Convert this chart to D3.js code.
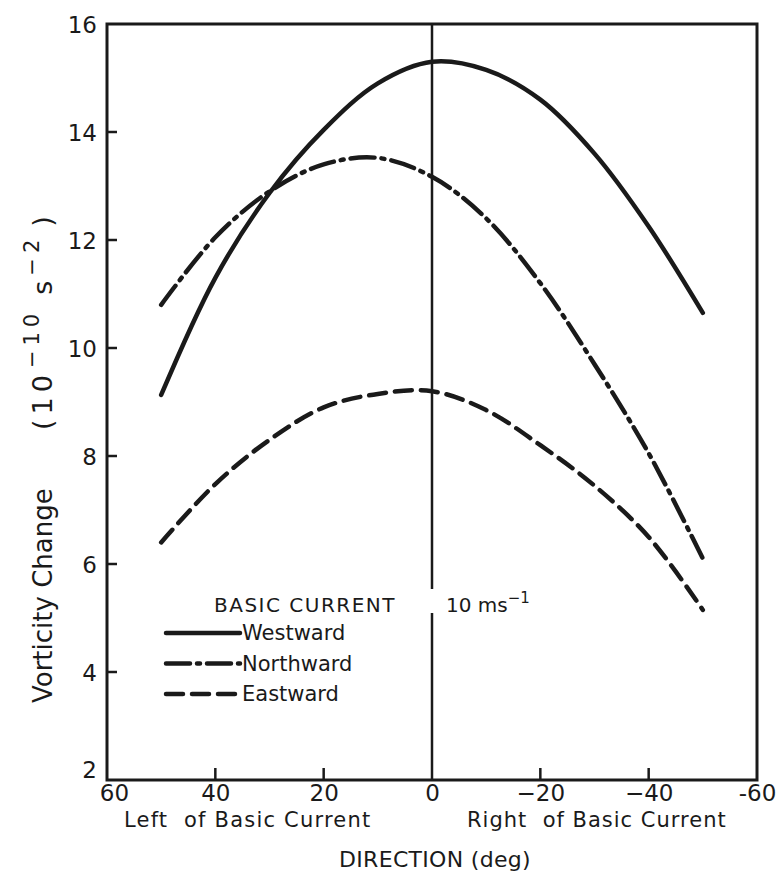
<!DOCTYPE html>
<html>
<head>
<meta charset="utf-8">
<script src="https://cdn.jsdelivr.net/npm/d3@7"></script>
<style>
  body { margin: 0; background: #fff; }
  text { font-family: "DejaVu Sans", sans-serif; fill: #1a1a1a; }
</style>
</head>
<body>
<svg id="main-svg"></svg>
<script>
// --- data ---
const directions = [50, 40, 30, 20, 10, 0, -10, -20, -30, -40, -50];
const westward  = [9.13, 11.3, 12.87, 14.04, 14.9, 15.3, 15.15, 14.6, 13.6, 12.25, 10.65];
const northward = [10.8, 12.05, 12.9, 13.4, 13.52, 13.17, 12.4, 11.2, 9.7, 8.05, 6.1];
const eastward  = [6.4, 7.48, 8.3, 8.9, 9.15, 9.2, 8.85, 8.2, 7.45, 6.5, 5.15];
const xTicks = [60, 40, 20, 0, -20, -40, -60];
const yTicks = [2, 4, 6, 8, 10, 12, 14, 16];
const seriesNames = ["Westward", "Northward", "Eastward"];

// --- setup ---
const width = 781, height = 896;
const svg = d3.select("#main-svg").attr("width", width).attr("height", height);

const margin = {left: 107, right: 24, top: 24, bottom: 116};
const x = d3.scaleLinear().domain([60, -60]).range([margin.left, width - margin.right]);
const y = d3.scaleLinear().domain([2, 16]).range([height - margin.bottom, margin.top]);

const ink = "#1a1a1a";

// frame
svg.append("rect")
   .attr("x", x(60)).attr("y", y(16))
   .attr("width", x(-60) - x(60)).attr("height", y(2) - y(16))
   .attr("fill", "none").attr("stroke", ink).attr("stroke-width", 3);

// y axis labels
const yAxis = d3.axisLeft(y).tickValues(yTicks).tickSize(0).tickPadding(10).tickFormat(d3.format("d"));
const gy = svg.append("g").attr("transform", `translate(${x(60)},0)`).call(yAxis);
gy.select(".domain").remove();
gy.selectAll(".tick text").style("font-size", "23px").attr("fill", ink)
  .attr("dy", d => d === 2 ? "-0.1em" : "0.38em");

// inward y ticks
svg.append("g").selectAll("line")
   .data(yTicks.filter(d => d !== 2 && d !== 16))
   .join("line")
   .attr("x1", x(60)).attr("x2", x(60) + 10)
   .attr("y1", d => y(d)).attr("y2", d => y(d))
   .attr("stroke", ink).attr("stroke-width", 2.5);

// x axis labels
const xAxis = d3.axisBottom(x).tickValues(xTicks).tickSize(0).tickPadding(5)
  .tickFormat(d => d === -60 ? "-60" : (d < 0 ? "\u2212" + (-d) : d));
const gx = svg.append("g").attr("transform", `translate(0,${y(2)})`).call(xAxis);
gx.select(".domain").remove();
gx.selectAll(".tick text").style("font-size", "23px").attr("fill", ink)
  .attr("dx", d => d === 60 ? "0.3em" : 0);

// inward x ticks
svg.append("g").selectAll("line")
   .data(xTicks.filter(d => d !== 60 && d !== -60 && d !== 0))
   .join("line")
   .attr("x1", d => x(d)).attr("x2", d => x(d))
   .attr("y1", y(2)).attr("y2", y(2) - 12)
   .attr("stroke", ink).attr("stroke-width", 2.5);

// vertical line at 0 with gap for the annotation
const gapTop = 589, gapBottom = 613;
svg.append("line").attr("x1", x(0)).attr("x2", x(0)).attr("y1", y(16)).attr("y2", gapTop)
   .attr("stroke", ink).attr("stroke-width", 2.5);
svg.append("line").attr("x1", x(0)).attr("x2", x(0)).attr("y1", gapBottom).attr("y2", y(2))
   .attr("stroke", ink).attr("stroke-width", 2.5);

// curves
const styles = {
  Westward:  {values: westward,  dash: null},
  Northward: {values: northward, dash: "24,7,3,7"},
  Eastward:  {values: eastward,  dash: "17,9"}
};
const line = d3.line().x(d => x(d[0])).y(d => y(d[1])).curve(d3.curveCatmullRom.alpha(0.5));

seriesNames.forEach(name => {
  const s = styles[name];
  svg.append("path")
     .datum(directions.map((d, i) => [d, s.values[i]]))
     .attr("d", line)
     .attr("fill", "none")
     .attr("stroke", ink)
     .attr("stroke-width", 4.5)
     .attr("stroke-linecap", "round")
     .attr("stroke-dasharray", s.dash);
});

// annotation
svg.append("text").attr("x", 214).attr("y", 612).text("BASIC CURRENT")
   .style("font-size", "20px").style("letter-spacing", "1.5px");
const ann = svg.append("text").attr("x", 446).attr("y", 612).style("font-size", "20px");
ann.append("tspan").text("10 ms");
ann.append("tspan").attr("dy", -9).style("font-size", "15px").text("\u22121");

// legend
const legend = svg.append("g");
seriesNames.forEach((name, i) => {
  const ly = 633 + i * 30.5;
  legend.append("line").attr("x1", 166).attr("x2", 240).attr("y1", ly).attr("y2", ly)
        .attr("stroke", ink).attr("stroke-width", 4.5).attr("stroke-linecap", "round")
        .attr("stroke-dasharray", styles[name].dash);
  legend.append("text").attr("x", 242).attr("y", ly + 7).text(name).style("font-size", "21px");
});

// x-axis side labels and title
svg.append("text").attr("x", 124).attr("y", 827).text("Left  of Basic Current")
   .style("font-size", "21px").style("letter-spacing", "1.2px").attr("xml:space", "preserve");
svg.append("text").attr("x", 467).attr("y", 827).text("Right  of Basic Current")
   .style("font-size", "21px").style("letter-spacing", "1px").attr("xml:space", "preserve");
svg.append("text").attr("x", 435).attr("y", 867).attr("text-anchor", "middle")
   .text("DIRECTION (deg)").style("font-size", "22px").style("letter-spacing", "0.3px");

// y-axis title, two parts
svg.append("text")
   .attr("transform", "translate(52,703) rotate(-90)")
   .style("font-size", "26px")
   .text("Vorticity Change");
const yt = svg.append("text")
   .attr("transform", "translate(52,430) rotate(-90)")
   .style("font-size", "27px")
   .style("letter-spacing", "5px");
yt.append("tspan").text("(10");
yt.append("tspan").attr("dy", -13).attr("dx", 2).style("font-size", "21px").text("\u221210");
yt.append("tspan").attr("dy", 13).attr("dx", 14).text("s");
yt.append("tspan").attr("dy", -13).style("font-size", "21px").text("\u22122");
yt.append("tspan").attr("dy", 13).attr("dx", 8).text(")");
</script>
</body>
</html>
